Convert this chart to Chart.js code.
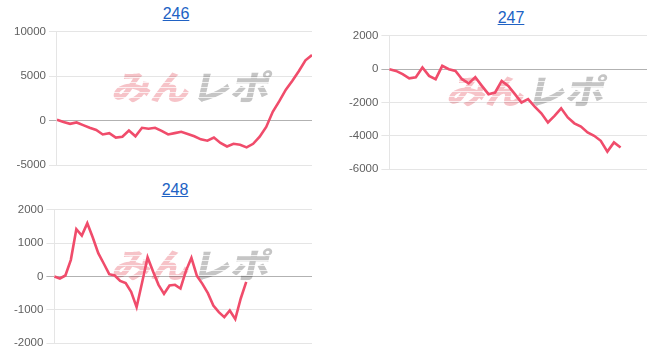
<!DOCTYPE html>
<html>
<head>
  <meta charset="UTF-8">
  <title>みんレポ グラフ</title>
  <script src="https://cdn.jsdelivr.net/npm/chart.js"></script>
  <style>
    body {
      margin: 0;
      background: #fff;
      font-family: 'Liberation Sans', Arial, sans-serif;
      width: 670px;
      height: 352px;
      overflow: hidden;
      position: relative;
    }
    .ttl {
      position: absolute;
      width: 120px;
      text-align: center;
      font-size: 16px;
      line-height: 20px;
    }
    .ttl a { color: #2062c4; text-decoration: underline; }
    canvas { position: absolute; }
  </style>
</head>
<body>
  <div class="ttl" style="left:116px; top:4px;"><a href="#">246</a></div>
  <div class="ttl" style="left:451px; top:8px;"><a href="#">247</a></div>
  <div class="ttl" style="left:115px; top:180px;"><a href="#">248</a></div>

  <canvas id="c246" width="301" height="153" style="left:11px; top:22px;"></canvas>
  <canvas id="c247" width="301" height="153" style="left:346px; top:26px;"></canvas>
  <canvas id="c248" width="301" height="153" style="left:11px; top:200px;"></canvas>

  <script>
    // 差枚の推移
    const data246 = [100, -150, -350, -200, -500, -800, -1050, -1550, -1400, -1900,
      -1800, -1100, -1750, -800, -900, -800, -1150, -1550, -1400, -1250,
      -1500, -1750, -2100, -2250, -1900, -2500, -2900, -2600, -2700, -3000,
      -2600, -1800, -700, 1000, 2200, 3500, 4500, 5600, 6800, 7400];
    const data247 = [0, -100, -300, -550, -480, 100, -400, -600, 200, 0,
      -100, -600, -850, -480, -1000, -1500, -1400, -700, -1000, -1500,
      -2000, -1800, -2250, -2650, -3200, -2800, -2350, -2900, -3250, -3450,
      -3800, -4000, -4300, -4950, -4400, -4700];
    const data248 = [0, -60, 30, 500, 1420, 1230, 1600, 1170, 700, 390,
      70, 30, -130, -200, -460, -920, -180, 580, 150, -250,
      -520, -270, -250, -360, 170, 560, 20, -220, -500, -870,
      -1070, -1220, -1020, -1280, -660, -160];

    const slots246 = 40;
    const slots247 = 40;
    const slots248 = 48;

    const yRange246 = { min: -5000, max: 10000, step: 5000 };
    const yRange247 = { min: -6000, max: 2000, step: 2000 };
    const yRange248 = { min: -2000, max: 2000, step: 1000 };

    const lineColor = '#f04c6b';

    // 背景のロゴ
    const logoPlugin = {
      id: 'logo',
      beforeDraw(chart) {
        const c = chart.ctx;
        c.save();
        c.setTransform(1.14, 0, -0.22, 1, 0, 0);
        c.font = '900 34px "Noto Sans CJK JP"';
        c.textBaseline = 'alphabetic';
        const base = 78;
        const x0 = 100 / 1.14 + 0.22 * base / 1.14;
        c.fillStyle = 'rgba(228, 80, 95, 0.34)';
        c.fillText('みん', x0, base);
        const w = c.measureText('みん').width;
        c.fillStyle = 'rgba(110, 110, 110, 0.4)';
        c.fillText('レポ', x0 + w + 2, base);
        c.restore();
        // 横線の抜き
        c.save();
        c.strokeStyle = 'rgba(255,255,255,0.75)';
        c.lineWidth = 1;
        for (let y = 55.5; y < 81; y += 5) {
          c.beginPath();
          c.moveTo(95, y);
          c.lineTo(268, y);
          c.stroke();
        }
        c.restore();
      }
    };

    function makeChart(id, values, slots, range) {
      const labels = [];
      for (let i = 0; i < slots; i++) labels.push(i + 1);
      new Chart(document.getElementById(id), {
        type: 'line',
        data: {
          labels: labels,
          datasets: [{
            data: values,
            borderColor: lineColor,
            borderWidth: 2.6,
            pointRadius: 0,
            fill: false,
            tension: 0
          }]
        },
        options: {
          responsive: false,
          animation: false,
          plugins: {
            legend: { display: false },
            tooltip: { enabled: false }
          },
          scales: {
            x: { display: false },
            y: {
              min: range.min,
              max: range.max,
              ticks: {
                stepSize: range.step,
                color: '#5f5f5f',
                font: { size: 11.5 },
                callback: v => String(v)
              },
              grid: {
                color: ctx => ctx.tick && ctx.tick.value === 0 ? 'rgba(0,0,0,0.3)' : 'rgba(0,0,0,0.1)'
              },
              border: { color: 'rgba(0,0,0,0.1)' }
            }
          }
        },
        plugins: [logoPlugin]
      });
    }

    makeChart('c246', data246, slots246, yRange246);
    makeChart('c247', data247, slots247, yRange247);
    makeChart('c248', data248, slots248, yRange248);
  </script>
</body>
</html>
